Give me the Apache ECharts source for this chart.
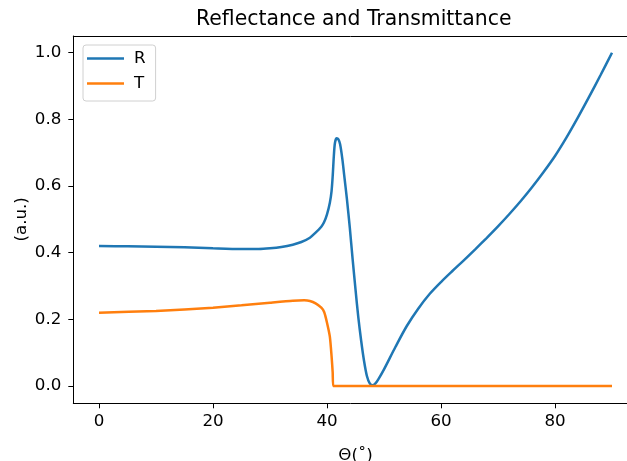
<!DOCTYPE html>
<html>
<head>
<meta charset="utf-8">
<script src="https://cdn.jsdelivr.net/npm/echarts@6/dist/echarts.min.js"></script>
<style>
html,body{margin:0;padding:0;background:#fff;}
#chart{width:627px;height:461px;}
</style>
</head>
<body>
<div id="chart"></div>
<script>
// Data
const rAngles = [0, 5, 10, 15, 20, 25, 28, 30, 32, 34, 35.5, 37, 38, 39, 39.5, 40, 40.5, 40.8, 41, 41.2, 41.4, 41.7, 42, 42.3, 42.7, 43, 43.5, 44, 44.5, 45, 45.5, 46, 46.5, 47, 47.5, 48, 48.5, 49, 50, 52, 54, 56, 58, 60, 62, 64, 66, 68, 70, 72, 74, 76, 78, 80, 82, 84, 86, 88, 90];
const rValues = [0.42, 0.419, 0.418, 0.416, 0.413, 0.411, 0.411, 0.413, 0.417, 0.424, 0.432, 0.445, 0.46, 0.478, 0.492, 0.515, 0.55, 0.585, 0.63, 0.69, 0.73, 0.743, 0.74, 0.725, 0.68, 0.635, 0.56, 0.475, 0.38, 0.29, 0.205, 0.135, 0.075, 0.03, 0.008, 0.002, 0.008, 0.02, 0.05, 0.117, 0.18, 0.232, 0.276, 0.312, 0.345, 0.377, 0.41, 0.444, 0.479, 0.516, 0.555, 0.597, 0.642, 0.69, 0.745, 0.805, 0.868, 0.933, 1.0];
const tAngles = [0, 10, 20, 25, 30, 34, 36, 37, 38, 39, 39.5, 40, 40.5, 40.8, 41, 41.1, 50, 60, 70, 80, 90];
const tValues = [0.22, 0.225, 0.235, 0.242, 0.25, 0.256, 0.257, 0.255, 0.248, 0.235, 0.222, 0.19, 0.148, 0.09, 0.04, 0.0, 0.0, 0.0, 0.0, 0.0, 0.0];
const xTicks = [0, 20, 40, 60, 80];
const yTicks = [0.0, 0.2, 0.4, 0.6, 0.8, 1.0];
const xMin = 0, xMax = 90;
const yMin = 0, yMax = 1;
const seriesNames = ['R', 'T'];
const titleText = 'Reflectance and Transmittance';
const xName = 'Θ(˚)';
const yName = '(a.u.)';

const pairs = (xs, ys) => xs.map((x, i) => [x, ys[i]]);
const font = 'DejaVu Sans';
const txt = {fontFamily: font, fontSize: 16.7, color: '#000'};
const frameAxis = (pos) => ({
  gridIndex: 1, type: 'value', position: pos, min: 0, max: 1,
  axisLine: {show: true, onZero: false, lineStyle: {color: '#000', width: 1}},
  axisTick: {show: false}, axisLabel: {show: false}, splitLine: {show: false}
});
const chart = echarts.init(document.getElementById('chart'), null, {renderer: 'canvas'});
chart.setOption({
  animation: false,
  backgroundColor: '#fff',
  title: {
    text: titleText,
    left: 196,
    top: 10,
    padding: 0,
    textStyle: {fontFamily: font, fontSize: 20.4, fontWeight: 'normal', color: '#000'}
  },
  legend: {
    orient: 'vertical',
    left: 83,
    top: 45,
    data: seriesNames,
    icon: 'rect',
    itemWidth: 37,
    itemHeight: 2.5,
    itemGap: 6,
    padding: [4, 10, 8, 4],
    borderColor: '#d0d0d0',
    borderWidth: 1,
    borderRadius: 3,
    backgroundColor: 'rgba(255,255,255,0.8)',
    textStyle: Object.assign({lineHeight: 19, padding: [0, 0, 0, 5]}, txt)
  },
  grid: [
    // data area: spans exactly 0..90 and 0..1
    {left: 99, top: 52.7, right: 15, bottom: 75, show: false, outerBoundsMode: 'none', containLabel: false},
    // frame (matplotlib spines incl. 5% margins)
    {left: 73.3, top: 36, right: -20, bottom: 57.7, show: false, outerBoundsMode: 'none', containLabel: false}
  ],
  xAxis: [
    {
      gridIndex: 0, type: 'value', min: xMin, max: xMax,
      offset: 17.3,
      name: xName, nameLocation: 'middle', nameGap: 44, nameMoveOverlap: false, nameTextStyle: txt,
      splitLine: {show: false},
      axisLine: {show: false, onZero: false},
      axisTick: {show: true, customValues: xTicks, length: 5, lineStyle: {color: '#000', width: 1}},
      axisLabel: Object.assign({customValues: xTicks, margin: 10}, txt)
    },
    frameAxis('bottom'),
    frameAxis('top')
  ],
  yAxis: [
    {
      gridIndex: 0, type: 'value', min: yMin, max: yMax,
      offset: 25.7,
      name: yName, nameLocation: 'middle', nameGap: 43, nameMoveOverlap: false, nameTextStyle: txt,
      splitLine: {show: false},
      axisLine: {show: false, onZero: false},
      axisTick: {show: true, customValues: yTicks, length: 5, lineStyle: {color: '#000', width: 1}},
      axisLabel: Object.assign({customValues: yTicks, margin: 12, formatter: v => v.toFixed(1)}, txt)
    },
    frameAxis('left')
  ],
  series: [
    {name: seriesNames[0], type: 'line', xAxisIndex: 0, yAxisIndex: 0, clip: false,
      data: pairs(rAngles, rValues), smooth: 0.3, showSymbol: false,
      lineStyle: {color: '#1f77b4', width: 2.5}, itemStyle: {color: '#1f77b4'}},
    {name: seriesNames[1], type: 'line', xAxisIndex: 0, yAxisIndex: 0, clip: false,
      data: pairs(tAngles, tValues), smooth: 0.2, showSymbol: false,
      lineStyle: {color: '#ff7f0e', width: 2.5}, itemStyle: {color: '#ff7f0e'}}
  ]
});
</script>
</body>
</html>
